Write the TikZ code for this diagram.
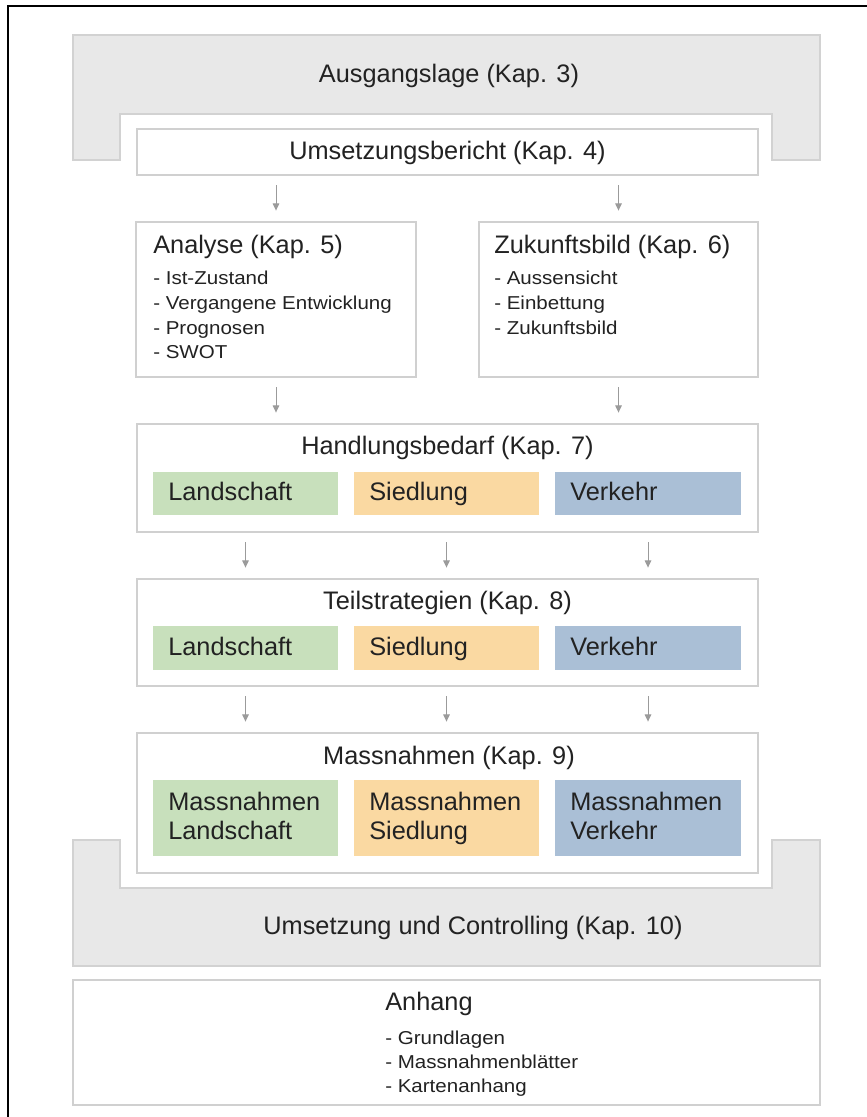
\documentclass[tikz,border=0pt]{standalone}
\usepackage{fontspec}
\setmainfont{Liberation Sans}
\newfontfamily\itemfont{Liberation Sans}[FakeStretch=1.1]
\usetikzlibrary{fit,arrows.meta}
\definecolor{boxline}{RGB}{208,208,208}
\definecolor{grayfill}{RGB}{232,232,232}
\definecolor{grayline}{RGB}{210,210,210}
\definecolor{txt}{RGB}{34,34,34}
\definecolor{arrowc}{RGB}{155,155,155}
\definecolor{greenf}{RGB}{200,224,188}
\definecolor{yellowf}{RGB}{250,217,162}
\definecolor{bluef}{RGB}{170,191,214}
\begin{document}
\begin{tikzpicture}[x=0.75pt,y=-0.75pt,
 box/.style={draw=boxline, line width=1.1pt, fill=white, inner sep=0pt},
 gshape/.style={draw=grayline, line width=1.1pt, fill=grayfill},
 cbox/.style={inner sep=0pt, draw=none},
 ttl/.style={font=\fontsize{19}{22}\selectfont, text=txt, inner sep=0pt, text height=.72em, text depth=0pt, yshift=-2.2pt},
 itm/.style={font=\itemfont\fontsize{14}{16}\selectfont, text=txt, inner sep=0pt, text height=.72em, text depth=0pt, anchor=west, yshift=-1.8pt},
 arr/.style={draw=arrowc, line width=0.75pt, -{Triangle[length=5.5pt,width=5pt]}, shorten <=7pt, shorten >=8pt}
]
\useasboundingbox (0,0) rectangle (867,1117);
\fill[white] (0,0) rectangle (867,1117);
% frame
\draw[line width=2.2pt, line cap=rect] (8,1117) -- (8,6) -- (867,6);
% top gray U
\draw[gshape] (73,35) -- (820,35) -- (820,160) -- (772,160) -- (772,114) -- (120,114) -- (120,160) -- (73,160) -- cycle;
\node[ttl] (agt) at (449,75) {Ausgangslage (Kap. 3)};
% bottom gray U
\draw[gshape] (73,966) -- (73,840) -- (120,840) -- (120,888) -- (772,888) -- (772,840) -- (820,840) -- (820,966) -- cycle;
\node[ttl] (uct) at (473,927) {Umsetzung und Controlling (Kap. 10)};
% Umsetzungsbericht
\node[box, fit={(137,129) (758,175)}] (ub) {};
\node[ttl] (ubt) at (447.5,152) {Umsetzungsbericht (Kap. 4)};
% Analyse
\node[box, fit={(136,222) (416,377)}] (an) {};
\node[ttl, anchor=west] (ant) at (153,246) {Analyse (Kap. 5)};
\node[itm] (an1) at (153,277) {- Ist-Zustand};
\node[itm] (an2) at (153,302) {- Vergangene Entwicklung};
\node[itm] (an3) at (153,327) {- Prognosen};
\node[itm] (an4) at (153,351) {- SWOT};
% Zukunftsbild
\node[box, fit={(479,222) (758,377)}] (zb) {};
\node[ttl, anchor=west] (zbt) at (494,246) {Zukunftsbild (Kap. 6)};
\node[itm] (zb1) at (494,277) {- Aussensicht};
\node[itm] (zb2) at (494,302) {- Einbettung};
\node[itm] (zb3) at (494,327) {- Zukunftsbild};
% Handlungsbedarf
\node[box, fit={(137,424) (758,532)}] (hb) {};
\node[ttl] (hbt) at (447.5,447) {Handlungsbedarf (Kap. 7)};
\node[cbox, fill=greenf, fit={(153,472) (338,515)}] (h1) {};
\node[cbox, fill=yellowf, fit={(354,472) (539,515)}] (h2) {};
\node[cbox, fill=bluef, fit={(555,472) (741,515)}] (h3) {};
\node[ttl, anchor=west] (h1t) at (168,493) {Landschaft};
\node[ttl, anchor=west] (h2t) at (369,493) {Siedlung};
\node[ttl, anchor=west] (h3t) at (570,493) {Verkehr};
% Teilstrategien
\node[box, fit={(137,579) (758,686)}] (tb) {};
\node[ttl] (tbt) at (447.5,602) {Teilstrategien (Kap. 8)};
\node[cbox, fill=greenf, fit={(153,626) (338,670)}] (t1) {};
\node[cbox, fill=yellowf, fit={(354,626) (539,670)}] (t2) {};
\node[cbox, fill=bluef, fit={(555,626) (741,670)}] (t3) {};
\node[ttl, anchor=west] (t1t) at (168,648) {Landschaft};
\node[ttl, anchor=west] (t2t) at (369,648) {Siedlung};
\node[ttl, anchor=west] (t3t) at (570,648) {Verkehr};
% Massnahmen
\node[box, fit={(137,733) (758,873)}] (mb) {};
\node[ttl] (mbt) at (449,757) {Massnahmen (Kap. 9)};
\node[cbox, fill=greenf, fit={(153,780) (338,856)}] (m1) {};
\node[cbox, fill=yellowf, fit={(354,780) (539,856)}] (m2) {};
\node[cbox, fill=bluef, fit={(555,780) (741,856)}] (m3) {};
\node[ttl, anchor=west] (m1a) at (168,803) {Massnahmen};
\node[ttl, anchor=west] (m1b) at (168,832) {Landschaft};
\node[ttl, anchor=west] (m2a) at (369,803) {Massnahmen};
\node[ttl, anchor=west] (m2b) at (369,832) {Siedlung};
\node[ttl, anchor=west] (m3a) at (570,803) {Massnahmen};
\node[ttl, anchor=west] (m3b) at (570,832) {Verkehr};
% Anhang
\node[box, fit={(73,980) (820,1105)}] (ah) {};
\node[ttl, anchor=west] (aht) at (385,1003) {Anhang};
\node[itm] (ah1) at (385,1037) {- Grundlagen};
\node[itm] (ah2) at (385,1061) {- Massnahmenblätter};
\node[itm] (ah3) at (385,1085) {- Kartenanhang};
% arrows
\draw[arr] (ub.south -| an.north) -- (an.north);
\draw[arr] (ub.south -| zb.north) -- (zb.north);
\draw[arr] (an.south) -- (an.south |- hb.north);
\draw[arr] (zb.south) -- (zb.south |- hb.north);
\draw[arr] (hb.south -| h1.south) -- (h1.south |- tb.north);
\draw[arr] (hb.south -| h2.south) -- (h2.south |- tb.north);
\draw[arr] (hb.south -| h3.south) -- (h3.south |- tb.north);
\draw[arr] (tb.south -| t1.south) -- (t1.south |- mb.north);
\draw[arr] (tb.south -| t2.south) -- (t2.south |- mb.north);
\draw[arr] (tb.south -| t3.south) -- (t3.south |- mb.north);
\end{tikzpicture}
\end{document}
